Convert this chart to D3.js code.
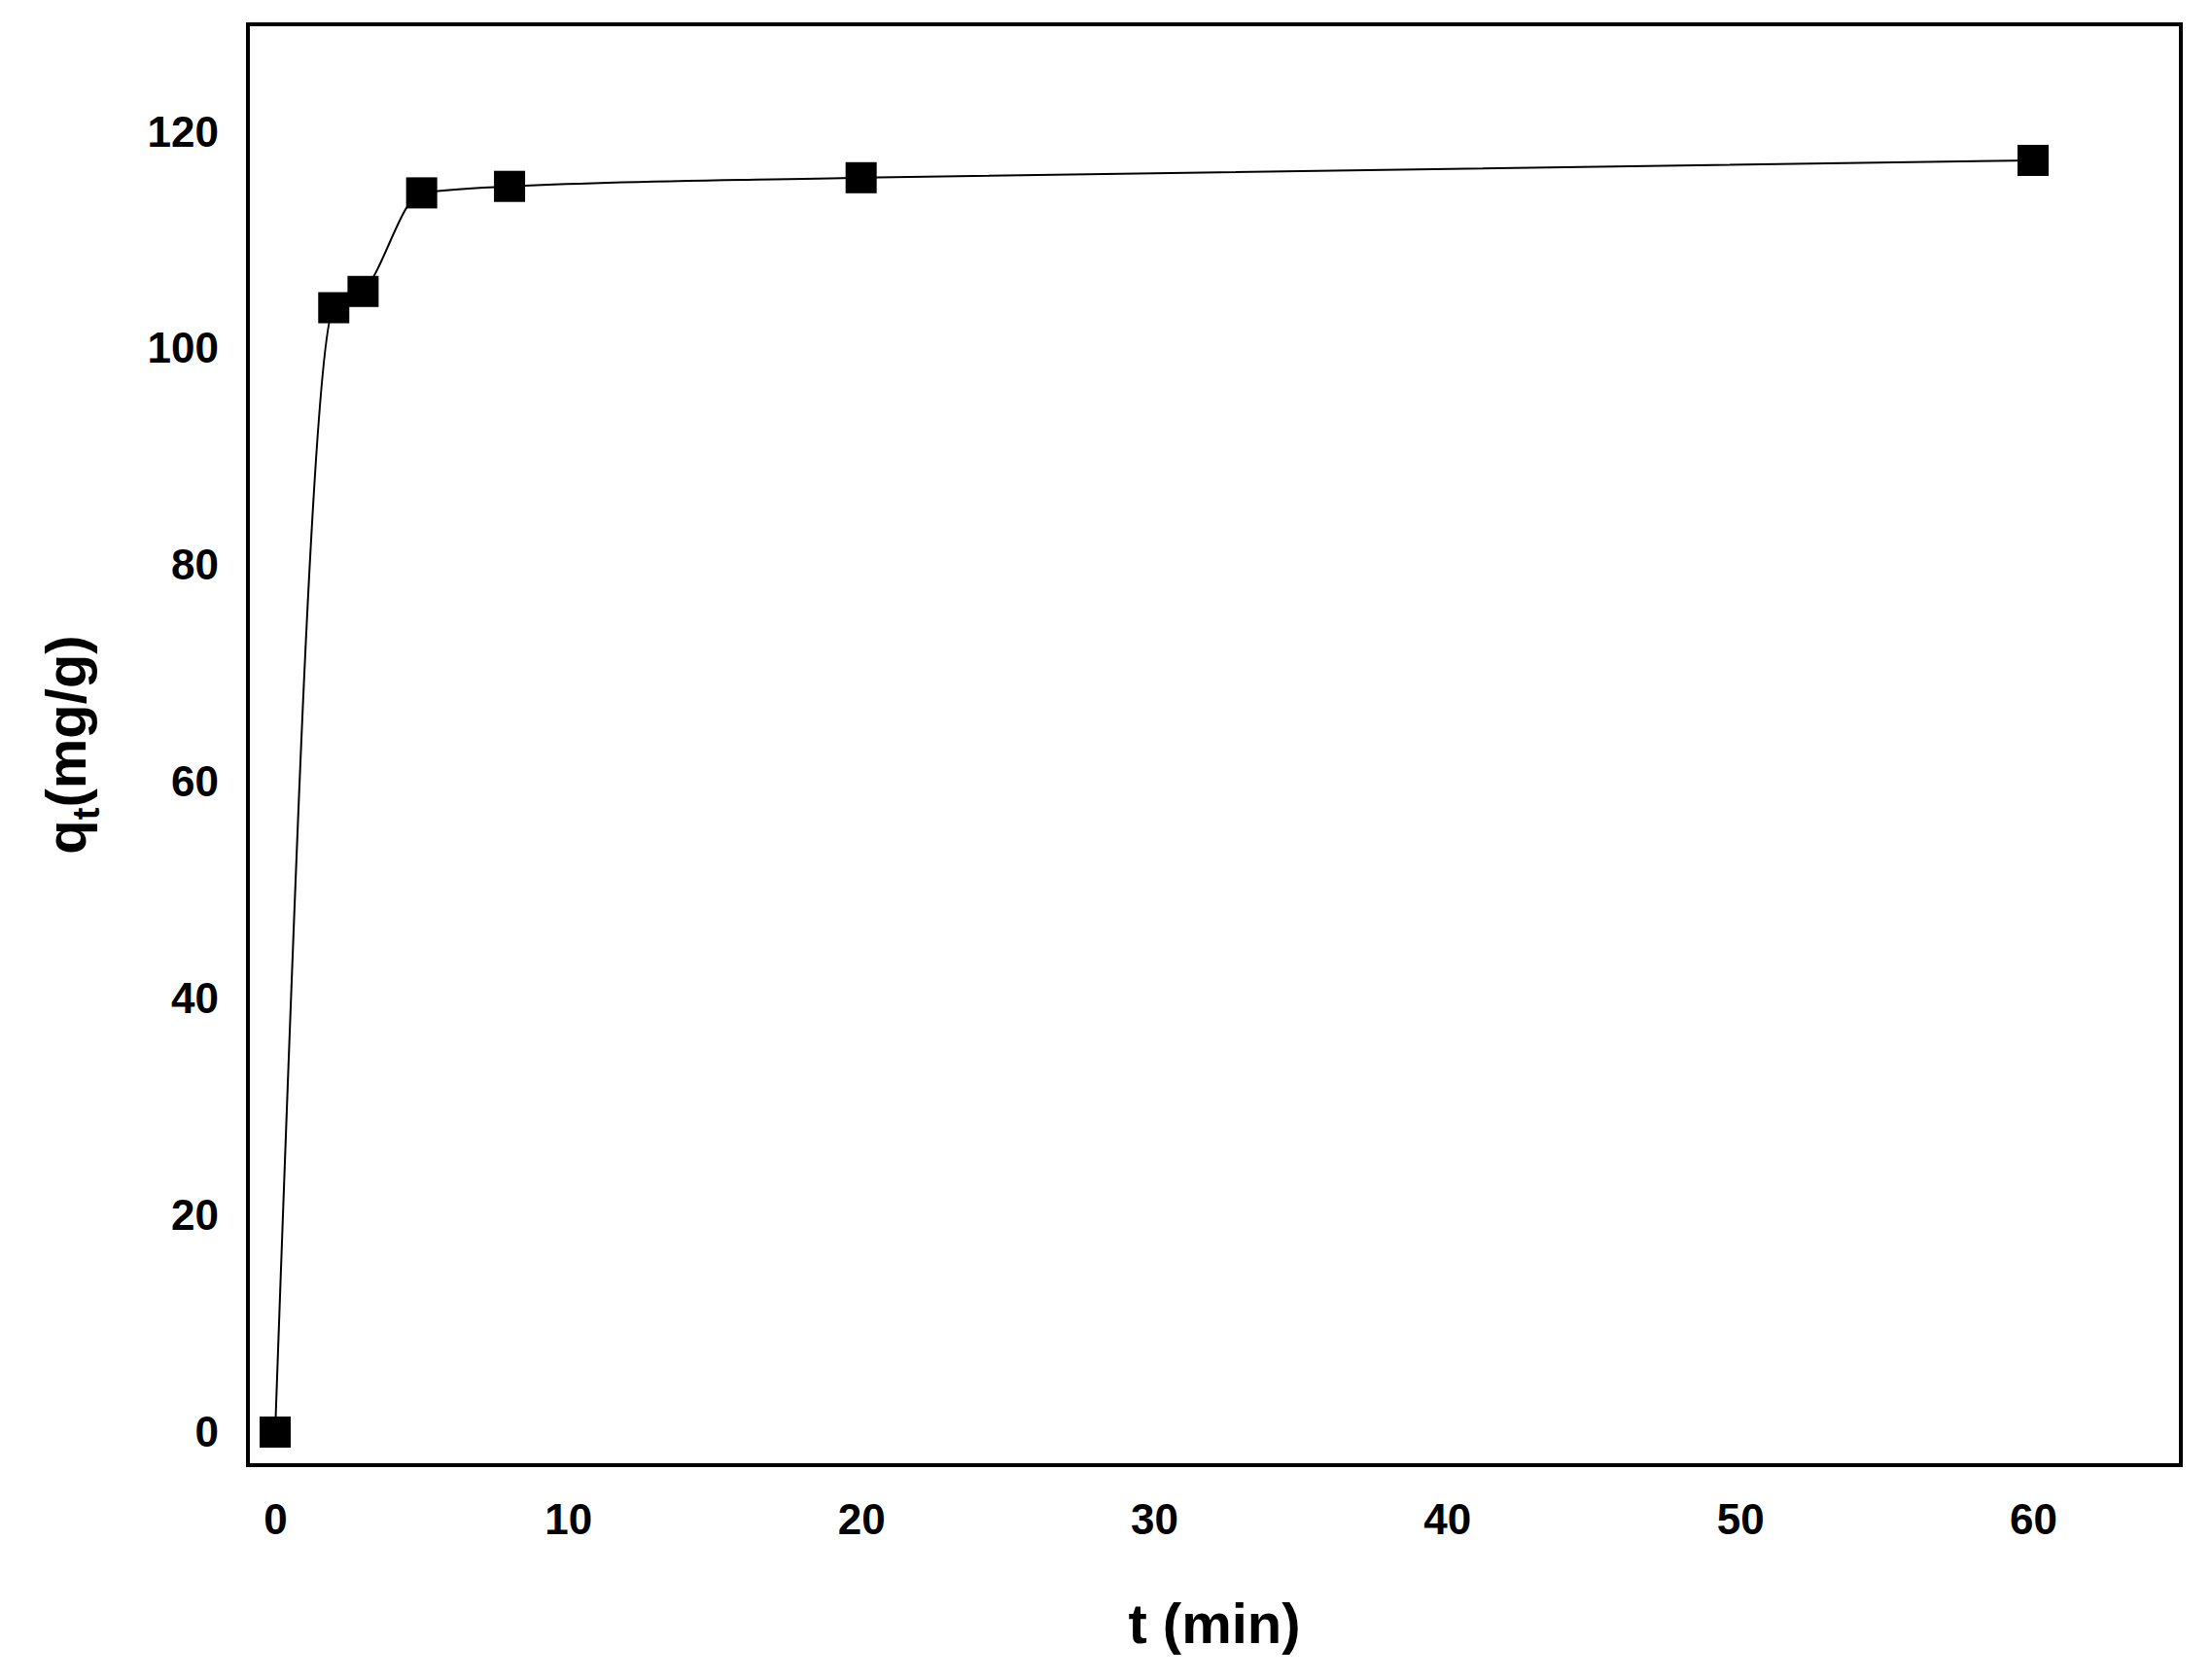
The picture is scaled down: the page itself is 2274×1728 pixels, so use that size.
<!DOCTYPE html>
<html><head><meta charset="utf-8">
<script src="https://cdn.jsdelivr.net/npm/d3@7"></script>
<style>body{margin:0;background:#fff}</style></head>
<body><svg id="c" width="2274" height="1728"></svg>
<script>
const times = [0, 2, 3, 5, 8, 20, 60];
const qt = [0, 103.8, 105.3, 114.4, 115.0, 115.8, 117.4];
const xTicks = [0, 10, 20, 30, 40, 50, 60];
const yTicks = [0, 20, 40, 60, 80, 100, 120];

const svg = d3.select("#c");
const x = d3.scaleLinear().domain([0, 60]).range([283, 2091]);
const y = d3.scaleLinear().domain([0, 120]).range([1473, 136]);
const L = 255, R = 2243, T = 25, B = 1507;
const font = "Arial, 'Liberation Sans', sans-serif";

svg.append("rect").attr("x", L).attr("y", T).attr("width", R - L).attr("height", B - T)
  .attr("fill", "none").attr("stroke", "#000").attr("stroke-width", 4);

const xa = svg.append("g").attr("transform", `translate(0,${B})`)
  .call(d3.axisBottom(x).tickValues(xTicks).tickSize(0).tickPadding(40));
const ya = svg.append("g").attr("transform", `translate(${L},0)`)
  .call(d3.axisLeft(y).tickValues(yTicks).tickSize(0).tickPadding(30));
[xa, ya].forEach(a => {
  a.select(".domain").remove();
  a.selectAll("text").attr("font-family", font).attr("font-weight", "bold")
    .attr("font-size", 44).attr("fill", "#000");
});

const data = times.map((t, i) => ({t, q: qt[i]}));
svg.append("path").datum(data)
  .attr("d", d3.line().x(d => x(d.t)).y(d => y(d.q)).curve(d3.curveMonotoneX))
  .attr("fill", "none").attr("stroke", "#000").attr("stroke-width", 2);

const s = 32;
svg.selectAll("rect.m").data(data).join("rect").attr("class", "m")
  .attr("x", d => x(d.t) - s / 2).attr("y", d => y(d.q) - s / 2)
  .attr("width", s).attr("height", s).attr("fill", "#000");

svg.append("text").attr("x", (L + R) / 2).attr("y", 1690).attr("text-anchor", "middle")
  .attr("font-family", font).attr("font-weight", "bold").attr("font-size", 58)
  .text("t (min)");

const yl = svg.append("text").attr("transform", `translate(88,${(T + B) / 2}) rotate(-90)`)
  .attr("text-anchor", "middle").attr("font-family", font).attr("font-weight", "bold")
  .attr("font-size", 58);
yl.append("tspan").text("q");
yl.append("tspan").attr("font-size", 38).attr("dy", 14).text("t");
yl.append("tspan").attr("dy", -14).text("(mg/g)");
</script></body></html>
